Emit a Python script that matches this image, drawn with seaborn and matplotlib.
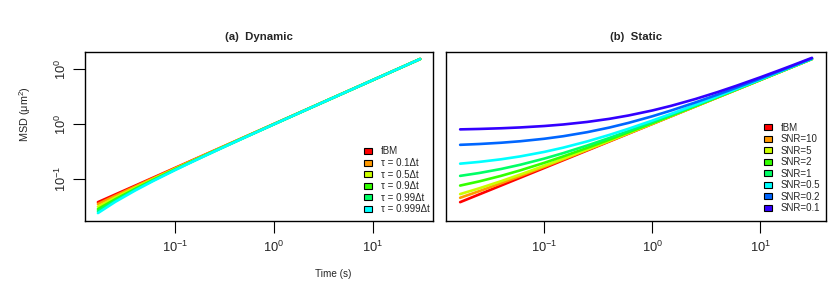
import numpy as np
import pandas as pd
import matplotlib
matplotlib.use("Agg")
import matplotlib.pyplot as plt
from matplotlib.patches import Patch
import seaborn as sns

# time lags (s)
time = [0.0167, 0.025, 0.04, 0.06, 0.1, 0.15, 0.25, 0.4, 0.6, 1, 1.5, 2.5, 4, 6, 10, 15, 20, 30]

# MSD
fbm = [0.0379, 0.0523, 0.0761, 0.1053, 0.1585, 0.2192, 0.3299, 0.4804, 0.6645, 1.0,
       1.383, 2.081, 3.031, 4.193, 6.310, 8.727, 10.98, 15.20]

# (a) dynamic error
tau_01 = [0.0351, 0.0495, 0.0733, 0.1025, 0.1557, 0.2164, 0.3271, 0.4776, 0.6617, 0.997,
          1.380, 2.078, 3.028, 4.190, 6.307, 8.724, 10.98, 15.20]
tau_05 = [0.0315, 0.0459, 0.0697, 0.0989, 0.1521, 0.2128, 0.3235, 0.4740, 0.6581, 0.9936,
          1.377, 2.075, 3.025, 4.187, 6.304, 8.721, 10.97, 15.19]
tau_09 = [0.0284, 0.0428, 0.0666, 0.0958, 0.1490, 0.2097, 0.3204, 0.4709, 0.6550, 0.9905,
          1.374, 2.072, 3.022, 4.184, 6.301, 8.718, 10.97, 15.19]
tau_099 = [0.0261, 0.0405, 0.0643, 0.0935, 0.1467, 0.2074, 0.3181, 0.4686, 0.6527, 0.9882,
           1.371, 2.069, 3.019, 4.181, 6.298, 8.715, 10.97, 15.19]
tau_0999 = [0.0240, 0.0384, 0.0622, 0.0914, 0.1446, 0.2053, 0.3160, 0.4665, 0.6506, 0.9861,
            1.369, 2.067, 3.017, 4.179, 6.296, 8.713, 10.97, 15.19]

# (b) static error
snr_10 = [0.0455, 0.0599, 0.0837, 0.1129, 0.1661, 0.2268, 0.3375, 0.4880, 0.6720, 1.008,
          1.391, 2.089, 3.039, 4.201, 6.318, 8.735, 10.99, 15.21]
snr_5 = [0.0531, 0.0675, 0.0913, 0.1205, 0.1737, 0.2344, 0.3451, 0.4956, 0.6797, 1.015,
         1.398, 2.096, 3.046, 4.208, 6.325, 8.742, 11.00, 15.22]
snr_2 = [0.0759, 0.0903, 0.1141, 0.1433, 0.1965, 0.2572, 0.3679, 0.5184, 0.7025, 1.038,
         1.421, 2.119, 3.069, 4.231, 6.348, 8.765, 11.02, 15.24]
snr_1 = [0.1139, 0.1283, 0.1521, 0.1813, 0.2345, 0.2952, 0.4059, 0.5564, 0.7405, 1.076,
         1.459, 2.157, 3.107, 4.269, 6.386, 8.803, 11.06, 15.28]
snr_05 = [0.1899, 0.2043, 0.2281, 0.2573, 0.3105, 0.3712, 0.4819, 0.6324, 0.8165, 1.152,
          1.535, 2.233, 3.183, 4.345, 6.462, 8.879, 11.13, 15.35]
snr_02 = [0.4179, 0.4323, 0.4561, 0.4853, 0.5385, 0.5992, 0.7099, 0.8604, 1.045, 1.380,
          1.763, 2.461, 3.411, 4.573, 6.690, 9.107, 11.36, 15.58]
snr_01 = [0.7979, 0.8123, 0.8361, 0.8653, 0.9185, 0.9792, 1.090, 1.240, 1.425, 1.760,
          2.143, 2.841, 3.791, 4.953, 7.070, 9.487, 11.74, 15.96]

dyn_labels = ["fBM", "τ = 0.1Δt", "τ = 0.5Δt", "τ = 0.9Δt", "τ = 0.99Δt", "τ = 0.999Δt"]
dyn_series = [fbm, tau_01, tau_05, tau_09, tau_099, tau_0999]
sta_labels = ["fBM", "SNR=10", "SNR=5", "SNR=2", "SNR=1", "SNR=0.5", "SNR=0.2", "SNR=0.1"]
sta_series = [fbm, snr_10, snr_5, snr_2, snr_1, snr_05, snr_02, snr_01]

# R rainbow(10), first eight
colors = ["#FF0000", "#FF9900", "#CCFF00", "#33FF00", "#00FF66", "#00FFFF", "#0066FF", "#3300FF"]

xticks = [0.1, 1, 10]
xticklabels = [r"$10^{-1}$", r"$10^{0}$", r"$10^{1}$"]
yticks = [0.1, 1, 10]
yticklabels = [r"$10^{-1}$", r"$10^{0}$", r"$10^{0}$"]


def long_df(labels, series):
    rows = []
    for lab, vals in zip(labels, series):
        rows.append(pd.DataFrame({"time": time, "msd": vals, "curve": lab}))
    return pd.concat(rows, ignore_index=True)


sns.set_style("white")
plt.rcParams["font.family"] = ["Liberation Sans", "DejaVu Sans"]
plt.rcParams["mathtext.fontset"] = "custom"
plt.rcParams["mathtext.rm"] = "Liberation Sans"
plt.rcParams["mathtext.it"] = "Liberation Sans:italic"
plt.rcParams["axes.unicode_minus"] = False

fig = plt.figure(figsize=(8.3, 2.97), dpi=100)
ax1 = fig.add_axes([85 / 830, 76 / 297, 348 / 830, 169 / 297])
ax2 = fig.add_axes([446 / 830, 76 / 297, 380 / 830, 169 / 297])

panels = [
    (ax1, dyn_labels, dyn_series, "(a)  Dynamic", 0.802, 0.04),
    (ax2, sta_labels, sta_series, "(b)  Static", 0.836, 0.045),
]

for ax, labels, series, title, lx, ly in panels:
    df = long_df(labels, series)
    pal = dict(zip(labels, colors[:len(labels)]))
    sns.lineplot(data=df, x="time", y="msd", hue="curve", palette=pal,
                 estimator=None, sort=False, linewidth=1.9, legend=False, ax=ax)
    ax.set_xscale("log")
    ax.set_yscale("log")
    ax.set_xlim(10 ** -1.908, 10 ** 1.607)
    ax.set_ylim(10 ** -1.764, 10 ** 1.309)
    ax.set_xticks(xticks, xticklabels)
    ax.minorticks_off()
    ax.set_xlabel("")
    ax.set_ylabel("")
    ax.tick_params(axis="both", direction="out", length=8.5, width=0.8,
                   labelsize=9.3, pad=5, color="black", bottom=True, left=True)
    ax.tick_params(axis="y", pad=3)
    for sp in ax.spines.values():
        sp.set_color("black")
        sp.set_linewidth(1.0)
    ax.set_title(title, fontsize=8.2, fontweight="bold", pad=9)

    handles = [Patch(facecolor=c, edgecolor="black", linewidth=0.8)
               for c in colors[:len(labels)]]
    ax.legend(handles, labels, loc="lower left", bbox_to_anchor=(lx, ly),
              frameon=False, fontsize=7.0, handlelength=0.82, handleheight=0.58,
              handletextpad=0.9, labelspacing=0.16, borderpad=0, borderaxespad=0)

ax1.set_yticks(yticks, yticklabels)
for lab in ax1.get_yticklabels():
    lab.set_rotation(90)
    lab.set_va("center")
ax2.set_yticks([])
ax2.tick_params(axis="y", left=False)

fig.text(25 / 830, 1 - 114 / 297, "MSD (μm$^2$)", rotation=90,
         ha="center", va="center", fontsize=7.8)
fig.text(333 / 830, 1 - 274 / 297, "Time (s)", ha="center", va="center", fontsize=7.2)

fig.savefig("out.png", dpi=100)
